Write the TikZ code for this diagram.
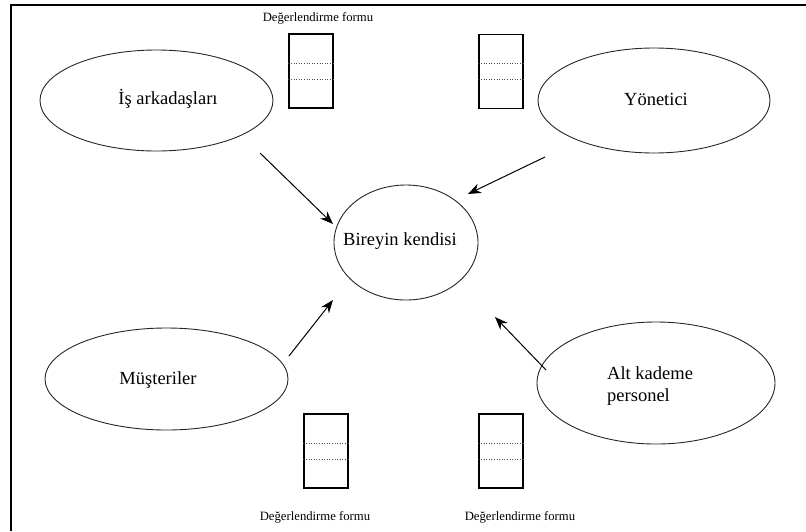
\documentclass[tikz,border=0pt]{standalone}
\usepackage{fontspec}
\setmainfont{Liberation Serif}
\usetikzlibrary{shapes.geometric,arrows.meta}
\begin{document}
\begin{tikzpicture}[x=1pt,y=-1pt,
  oval/.style={draw=black!85,line width=0.9pt,ellipse,inner sep=0pt},
  lbl/.style={font=\fontsize{18.5}{22}\selectfont,inner sep=0pt,align=left},
  formbox/.style={draw=black,line width=1.2pt,minimum width=44pt,minimum height=74pt,inner sep=0pt},
  formlbl/.style={font=\fontsize{12.7}{14}\selectfont,inner sep=0pt},
  dots/.style={line width=0.6pt,dotted,black!70},
  arr/.style={-{Stealth[length=13pt,width=10pt]},line width=1pt}]
\useasboundingbox (0,0) rectangle (806,531);
% border
\draw[line width=2pt] (11,531) -- (11,5) -- (806,5);
% ellipses
\node[oval,minimum width=233pt,minimum height=101pt] (is) at (156.5,100.5) {};
\node[oval,minimum width=232pt,minimum height=105pt] (yon) at (654,100.5) {};
\node[oval,minimum width=144pt,minimum height=115pt] (bir) at (406,242.5) {};
\node[oval,minimum width=243pt,minimum height=102pt] (mus) at (166.5,379) {};
\node[oval,minimum width=238pt,minimum height=122pt] (alt) at (656,383) {};
% texts
\node[lbl] (tis) at (168,99) {İş arkadaşları};
\node[lbl] (tyon) at (656,99) {Yönetici};
\node[lbl] (tbir) at (400,241) {Bireyin kendisi};
\node[lbl] (tmus) at (158,380) {Müşteriler};
\node[lbl,anchor=west] (talt) at (607,386) {Alt kademe\\personel};
% forms
\foreach \n/\x/\y in {f1/311/71, f2/501/71.5, f3/326/451, f4/501/451}{
  \node[formbox] (\n) at (\x,\y) {};
  \draw[dots] ([yshift=-8pt]\n.west) -- ([yshift=-8pt]\n.east);
  \draw[dots] ([yshift=8pt]\n.west) -- ([yshift=8pt]\n.east);
}
\node[formlbl] (l1) at (318,18) {Değerlendirme formu};
\node[formlbl] (l3) at (315,517) {Değerlendirme formu};
\node[formlbl] (l4) at (520,517) {Değerlendirme formu};
% arrows
\coordinate (a1) at (260,153);
\coordinate (b1) at (333,224);
\coordinate (a2) at (545,157);
\coordinate (b2) at (468,194);
\coordinate (a3) at (289,356);
\coordinate (b3) at (333,300);
\coordinate (a4) at (546,370);
\coordinate (b4) at (495,317);
\draw[arr] (a1) -- (b1);
\draw[arr] (a2) -- (b2);
\draw[arr] (a3) -- (b3);
\draw[arr] (a4) -- (b4);
\end{tikzpicture}
\end{document}
